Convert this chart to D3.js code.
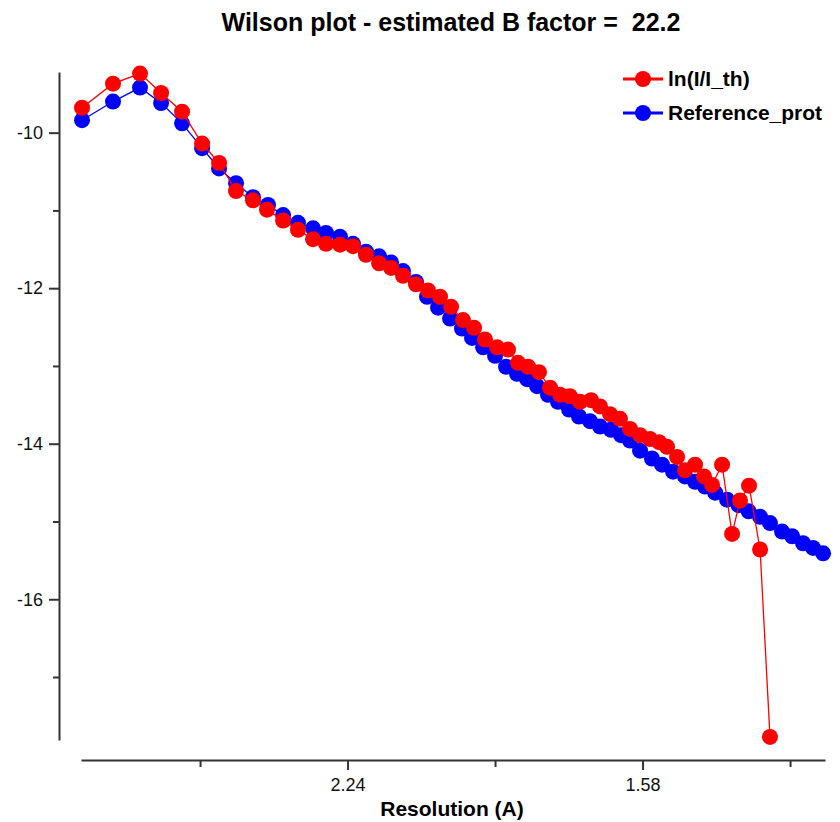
<!DOCTYPE html>
<html lang="en">

<head>
    <meta charset="UTF-8">
    <script src="https://d3js.org/d3.v7.min.js"></script>
    <title>Wilson plot</title>
    <style>
        body { margin: 0; background: #fff; }
        text { font-family: "Liberation Sans", Arial, sans-serif; }
    </style>
</head>

<body>
    <svg id="wilson" width="840" height="822"></svg>

    <script>
        // x values are 1/d^2 (axis is labelled with d = 1/sqrt(x)), y is ln(I)
        const obsS = [0.0200, 0.0410, 0.0593, 0.0736, 0.0878, 0.1014, 0.1129, 0.1244, 0.1359, 0.1454,
            0.1563, 0.1664, 0.1766, 0.1854, 0.1949, 0.2037, 0.2125, 0.2214, 0.2295, 0.2376,
            0.2464, 0.2546, 0.2627, 0.2702, 0.2783, 0.2858, 0.2932, 0.3014, 0.3088, 0.3156,
            0.3224, 0.3298, 0.3373, 0.3441, 0.3508, 0.3576, 0.3651, 0.3712, 0.3780, 0.3847,
            0.3915, 0.3983, 0.4051, 0.4112, 0.4166, 0.4234, 0.4288, 0.4356, 0.4417, 0.4471,
            0.4539, 0.4607, 0.4661, 0.4722, 0.4797, 0.4864];
        const obsLn = [-9.68, -9.37, -9.24, -9.49, -9.73, -10.14, -10.39, -10.75, -10.87, -10.99,
            -11.13, -11.25, -11.37, -11.43, -11.44, -11.46, -11.57, -11.68, -11.74, -11.84,
            -11.95, -12.03, -12.11, -12.24, -12.41, -12.51, -12.66, -12.76, -12.79, -12.96,
            -13.01, -13.08, -13.28, -13.37, -13.39, -13.46, -13.44, -13.52, -13.62, -13.68,
            -13.81, -13.89, -13.94, -13.98, -14.04, -14.17, -14.34, -14.27, -14.42, -14.53,
            -14.27, -15.16, -14.73, -14.54, -15.36, -17.77];

        const refS = [0.0200, 0.0410, 0.0593, 0.0736, 0.0878, 0.1014, 0.1129, 0.1244, 0.1359, 0.1461,
            0.1563, 0.1664, 0.1766, 0.1854, 0.1949, 0.2037, 0.2125, 0.2214, 0.2295, 0.2376,
            0.2464, 0.2539, 0.2614, 0.2695, 0.2776, 0.2844, 0.2919, 0.3000, 0.3075, 0.3149,
            0.3217, 0.3285, 0.3359, 0.3427, 0.3502, 0.3569, 0.3644, 0.3712, 0.3786, 0.3854,
            0.3915, 0.3983, 0.4064, 0.4132, 0.4207, 0.4288, 0.4356, 0.4424, 0.4492, 0.4573,
            0.4651, 0.4719, 0.4797, 0.4864, 0.4946, 0.5014, 0.5088, 0.5156, 0.5224];
        const refLn = [-9.84, -9.60, -9.42, -9.62, -9.88, -10.20, -10.46, -10.65, -10.83, -10.93,
            -11.06, -11.16, -11.23, -11.29, -11.34, -11.43, -11.53, -11.59, -11.67, -11.78,
            -11.92, -12.11, -12.25, -12.39, -12.52, -12.64, -12.76, -12.87, -13.01, -13.10,
            -13.17, -13.26, -13.37, -13.46, -13.56, -13.65, -13.71, -13.78, -13.82, -13.89,
            -13.96, -14.09, -14.19, -14.27, -14.36, -14.42, -14.49, -14.55, -14.63, -14.72,
            -14.79, -14.87, -14.94, -15.02, -15.13, -15.19, -15.28, -15.34, -15.41];

        const seriesNames = ["ln(I/I_th)", "Reference_prot"];
        const seriesColors = ["#ff0000", "#0000ff"];

        const xDomain = [0.0193, 0.5237];
        const yDomain = [-17.81, -9.22];
        const xMajorTicks = [0.2, 0.4];
        const xMinorTicks = [0.1, 0.3, 0.5];
        const yMajorTicks = [-10, -12, -14, -16];
        const yMinorTicks = [-11, -13, -15, -17];

        const titleText = "Wilson plot - estimated B factor =  22.2";
        const xLabel = "Resolution (A)";

        const svg = d3.select("svg#wilson");
        const width = +svg.attr("width");
        const height = +svg.attr("height");
        const margin = { top: 72, right: 15, bottom: 82, left: 81 };

        const xScale = d3.scaleLinear().domain(xDomain)
            .range([margin.left, width - margin.right]);
        const yScale = d3.scaleLinear().domain(yDomain)
            .range([height - margin.bottom, margin.top]);

        // title (keep the double space before the number)
        svg.append("text")
            .attr("x", 451)
            .attr("y", 31)
            .attr("text-anchor", "middle")
            .style("font-size", "25px")
            .style("font-weight", "bold")
            .style("white-space", "pre")
            .text(titleText);

        // y axis, sits a bit left of the plot
        const yAxisX = margin.left - 22;
        svg.append("g")
            .attr("class", "y axis")
            .attr("transform", `translate(${yAxisX},0)`)
            .call(d3.axisLeft(yScale).tickValues(yMajorTicks).tickSize(10).tickSizeOuter(0).tickPadding(6)
                .tickFormat(d => String(d)));
        svg.append("g")
            .attr("class", "y minor")
            .attr("transform", `translate(${yAxisX},0)`)
            .call(d3.axisLeft(yScale).tickValues(yMinorTicks).tickSize(6).tickSizeOuter(0).tickFormat(""))
            .select(".domain").remove();

        // x axis, sits a bit below the plot
        const xAxisY = height - margin.bottom + 20;
        svg.append("g")
            .attr("class", "x axis")
            .attr("transform", `translate(0,${xAxisY})`)
            .call(d3.axisBottom(xScale).tickValues(xMajorTicks).tickSize(10).tickSizeOuter(0).tickPadding(8)
                .tickFormat(d => (1 / Math.sqrt(d)).toFixed(2)));
        svg.append("g")
            .attr("class", "x minor")
            .attr("transform", `translate(0,${xAxisY})`)
            .call(d3.axisBottom(xScale).tickValues(xMinorTicks).tickSize(7).tickSizeOuter(0).tickFormat(""))
            .select(".domain").remove();

        svg.selectAll(".axis .domain, .axis line, .minor line")
            .attr("stroke", "#333")
            .attr("stroke-width", 2);
        svg.selectAll(".axis text")
            .attr("fill", "#111")
            .style("font-size", "18px");

        svg.append("text")
            .attr("x", 452)
            .attr("y", 816)
            .attr("text-anchor", "middle")
            .style("font-size", "21px")
            .style("font-weight", "bold")
            .text(xLabel);

        // series: reference underneath, observed on top
        const series = [
            { name: seriesNames[1], color: seriesColors[1], s: refS, ln: refLn },
            { name: seriesNames[0], color: seriesColors[0], s: obsS, ln: obsLn }
        ];

        const line = d3.line()
            .x(d => xScale(d[0]))
            .y(d => yScale(d[1]));

        series.forEach((ser) => {
            const pts = ser.s.map((s, i) => [s, ser.ln[i]]);
            const g = svg.append("g").attr("class", "series");
            g.append("path")
                .datum(pts)
                .attr("d", line)
                .attr("fill", "none")
                .attr("stroke", ser.color)
                .attr("stroke-width", 1.3);
            g.selectAll("circle").data(pts)
                .join("circle")
                .attr("cx", d => xScale(d[0]))
                .attr("cy", d => yScale(d[1]))
                .attr("r", 8)
                .attr("fill", ser.color);
        });

        // legend
        const legend = svg.append("g")
            .attr("class", "legend")
            .attr("transform", "translate(623,79)");

        seriesNames.forEach((d, i) => {
            legend.append("line")
                .attr("x1", 0).attr("x2", 40)
                .attr("y1", i * 34).attr("y2", i * 34)
                .attr("stroke", seriesColors[i])
                .attr("stroke-width", 3);
            legend.append("circle")
                .attr("cx", 20)
                .attr("cy", i * 34)
                .attr("r", 8)
                .attr("fill", seriesColors[i]);
            legend.append("text")
                .attr("x", 45)
                .attr("y", i * 34 + 7)
                .style("font-size", "21px")
                .style("font-weight", "bold")
                .text(d);
        });
    </script>
</body>

</html>
